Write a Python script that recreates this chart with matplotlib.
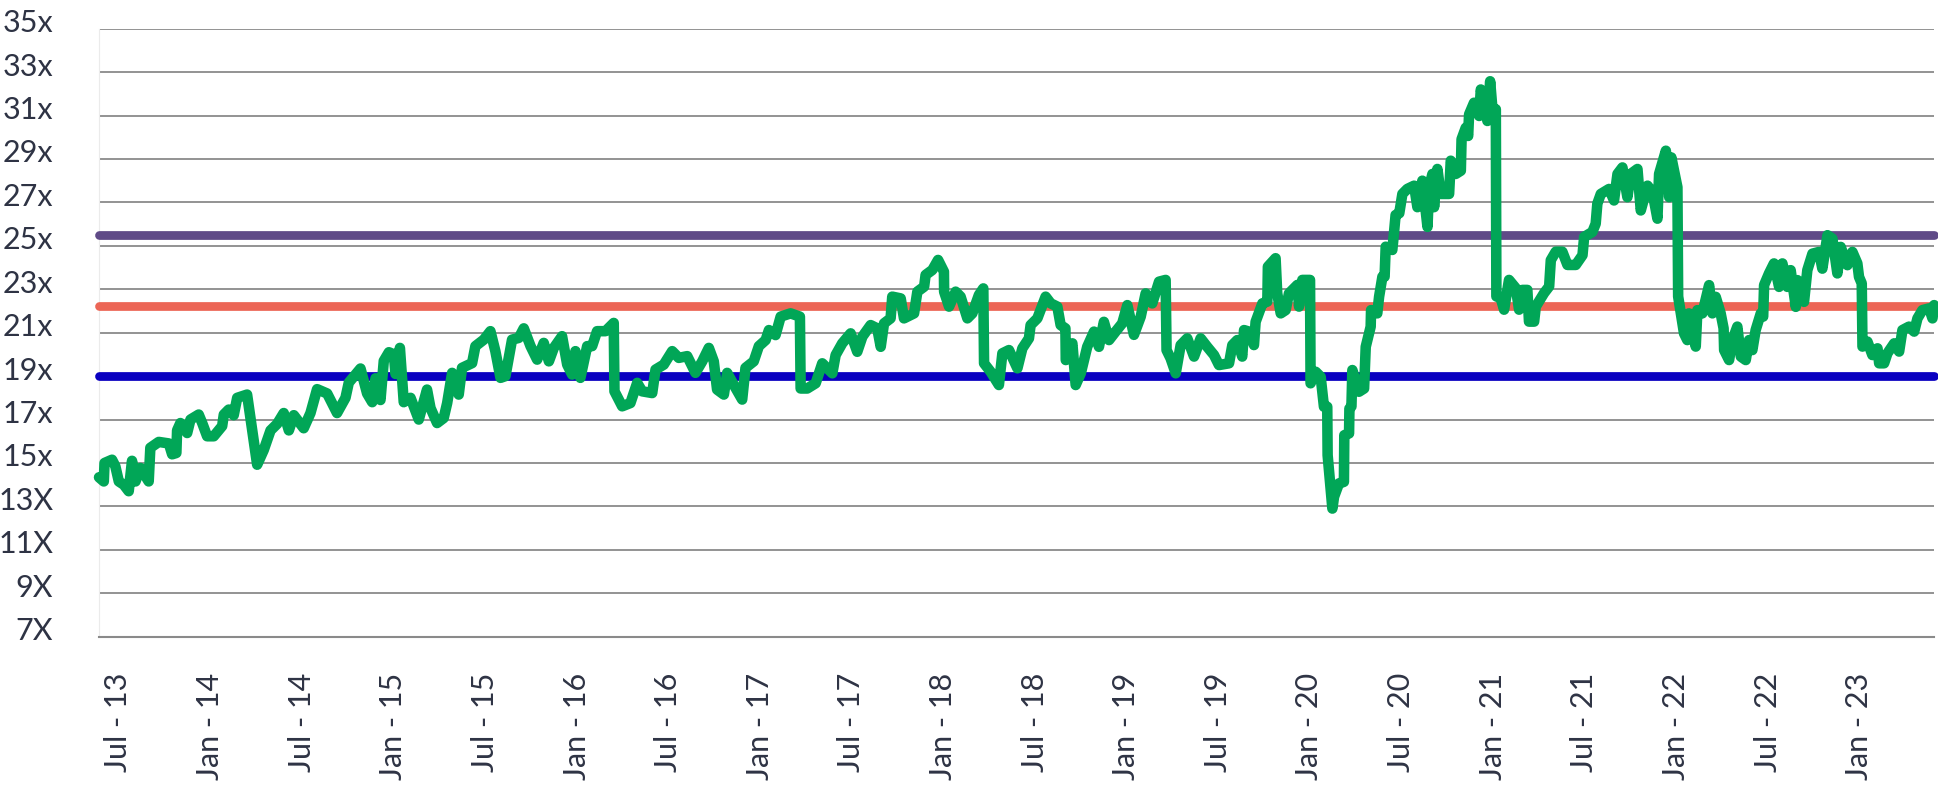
import matplotlib

matplotlib.use("Agg")
import matplotlib.pyplot as plt
from matplotlib.transforms import ScaledTranslation

GREEN = "#01a657"
PURPLE = "#5f4a87"
SALMON = "#ec6656"
BLUE = "#0a00c0"
GRID = "#8a8a8a"
TEXT = "#2e3344"

# decimal year, forward P/E
years = [
    2013.394, 2013.420, 2013.424, 2013.465, 2013.483, 2013.502, 2013.529, 2013.556, 2013.574, 2013.593,
    2013.620, 2013.665, 2013.674, 2013.720, 2013.775, 2013.793, 2013.816, 2013.820, 2013.838, 2013.875,
    2013.893, 2013.938, 2013.957, 2013.984, 2014.020, 2014.066, 2014.075, 2014.102, 2014.129, 2014.148,
    2014.202, 2014.257, 2014.293, 2014.330, 2014.366, 2014.402, 2014.430, 2014.457, 2014.511, 2014.548,
    2014.584, 2014.639, 2014.693, 2014.739, 2014.757, 2014.821, 2014.857, 2014.885, 2014.903, 2014.930,
    2014.948, 2014.976, 2015.003, 2015.012, 2015.036, 2015.057, 2015.094, 2015.139,
    2015.184, 2015.203, 2015.239, 2015.275, 2015.294, 2015.321, 2015.357, 2015.375, 2015.430, 2015.448,
    2015.494, 2015.530, 2015.557, 2015.585, 2015.612, 2015.648, 2015.685, 2015.712, 2015.749, 2015.785,
    2015.821, 2015.849, 2015.876, 2015.921, 2015.949, 2015.976, 2015.994, 2016.021, 2016.058, 2016.085,
    2016.112, 2016.158, 2016.203, 2016.207, 2016.249, 2016.294, 2016.331, 2016.358, 2016.413, 2016.431,
    2016.476, 2016.522, 2016.558, 2016.604, 2016.649, 2016.686, 2016.722, 2016.749, 2016.767, 2016.804,
    2016.822, 2016.858, 2016.904, 2016.922, 2016.967, 2016.995,
    2017.032, 2017.050, 2017.086, 2017.114, 2017.168, 2017.219, 2017.223, 2017.259, 2017.305, 2017.341,
    2017.396, 2017.414, 2017.450, 2017.496, 2017.532, 2017.560, 2017.605, 2017.641, 2017.660, 2017.678,
    2017.714, 2017.723, 2017.769, 2017.787, 2017.842, 2017.860, 2017.897, 2017.905, 2017.942, 2017.973,
    2018.005, 2018.006, 2018.033, 2018.069, 2018.096, 2018.133, 2018.160, 2018.196, 2018.220, 2018.224,
    2018.260, 2018.305, 2018.324, 2018.360, 2018.406, 2018.433, 2018.469, 2018.478, 2018.515, 2018.560,
    2018.588, 2018.624, 2018.642, 2018.668, 2018.670, 2018.706, 2018.724, 2018.752,
    2018.787, 2018.824, 2018.851, 2018.878, 2018.906, 2018.942, 2018.978, 2019.006, 2019.042, 2019.079,
    2019.106, 2019.142, 2019.179, 2019.215, 2019.220, 2019.242, 2019.270, 2019.297, 2019.333, 2019.370,
    2019.406, 2019.442, 2019.479, 2019.506, 2019.561, 2019.579, 2019.606, 2019.633, 2019.643, 2019.670,
    2019.697, 2019.706, 2019.743, 2019.770, 2019.773, 2019.815, 2019.824, 2019.843, 2019.870, 2019.888,
    2019.934, 2019.943, 2019.961, 2020.003, 2020.006, 2020.034, 2020.061, 2020.079, 2020.097, 2020.099,
    2020.125, 2020.134, 2020.161, 2020.188, 2020.190, 2020.216, 2020.218, 2020.229, 2020.234, 2020.270,
    2020.298, 2020.307, 2020.334, 2020.336, 2020.370, 2020.380, 2020.398, 2020.410, 2020.416, 2020.452,
    2020.461, 2020.470, 2020.490,
    2020.507, 2020.534, 2020.571, 2020.589, 2020.616, 2020.644, 2020.653, 2020.671, 2020.680, 2020.698,
    2020.716, 2020.762, 2020.771, 2020.798, 2020.826, 2020.830, 2020.853, 2020.866, 2020.871, 2020.898,
    2020.926, 2020.935, 2020.962, 2020.971, 2020.986, 2020.998, 2021.017, 2021.020, 2021.044, 2021.062,
    2021.089, 2021.126, 2021.144, 2021.162, 2021.189, 2021.198, 2021.226, 2021.235, 2021.280, 2021.308,
    2021.317, 2021.344, 2021.380, 2021.408, 2021.453, 2021.490, 2021.499, 2021.544, 2021.562, 2021.571,
    2021.590, 2021.635, 2021.662, 2021.681, 2021.708, 2021.735, 2021.753, 2021.790, 2021.808, 2021.845,
    2021.872, 2021.899, 2021.908, 2021.945, 2021.963, 2021.975, 2022.008, 2022.012,
    2022.044, 2022.062, 2022.071, 2022.090, 2022.108, 2022.117, 2022.144, 2022.181, 2022.199, 2022.217,
    2022.244, 2022.260, 2022.263, 2022.290, 2022.308, 2022.335, 2022.354, 2022.381, 2022.399, 2022.417,
    2022.435, 2022.463, 2022.476, 2022.481, 2022.508, 2022.535, 2022.563, 2022.581, 2022.608, 2022.626,
    2022.654, 2022.663, 2022.699, 2022.717, 2022.745, 2022.781, 2022.799, 2022.827, 2022.854, 2022.881,
    2022.899, 2022.936, 2022.963, 2022.990, 2022.999, 2023.014, 2023.018, 2023.045, 2023.072, 2023.100,
    2023.109, 2023.136, 2023.154, 2023.191, 2023.218, 2023.236, 2023.272, 2023.300, 2023.318, 2023.345,
    2023.382, 2023.400, 2023.409,
]
pe_values = [
    14.34, 14.15, 15.0, 15.15, 14.85, 14.15, 14.0, 13.7, 15.1, 14.15,
    14.77, 14.15, 15.7, 15.97, 15.9, 15.4, 15.46, 16.5, 16.84, 16.38,
    17.0, 17.23, 16.84, 16.23, 16.23, 16.7, 17.23, 17.46, 17.2, 18.0,
    18.15, 14.92, 15.6, 16.5, 16.8, 17.3, 16.5, 17.2, 16.6, 17.3,
    18.4, 18.2, 17.3, 18.0, 18.7, 19.35, 18.2, 17.8, 18.9, 17.9,
    19.7, 20.1, 20.0, 19.1, 20.3, 17.8, 18.0, 17.0,
    18.38, 17.53, 16.84, 17.07, 17.76, 19.15, 18.15, 19.38, 19.6, 20.38,
    20.68, 21.07, 20.15, 18.92, 19.0, 20.68, 20.76, 21.2, 20.38, 19.76,
    20.53, 19.68, 20.3, 20.84, 19.53, 19.07, 20.15, 18.92, 20.38, 20.38,
    21.07, 21.07, 21.45, 18.3, 17.61, 17.76, 18.69, 18.3, 18.22, 19.3,
    19.53, 20.15, 19.84, 19.92, 19.15, 19.68, 20.3, 19.68, 18.38, 18.15,
    19.15, 18.6, 17.92, 19.38, 19.68, 20.38,
    20.66, 21.12, 20.89, 21.74, 21.89, 21.74, 18.43, 18.43, 18.67, 19.59,
    19.13, 19.97, 20.51, 20.97, 20.12, 20.82, 21.35, 21.2, 20.35, 21.43,
    21.66, 22.66, 22.58, 21.66, 21.89, 22.89, 23.12, 23.66, 23.89, 24.35,
    23.81, 22.89, 22.2, 22.89, 22.66, 21.66, 21.89, 22.74, 23.04, 19.59,
    19.2, 18.59, 20.05, 20.2, 19.36, 20.28, 20.74, 21.35, 21.66, 22.66,
    22.35, 22.2, 21.35, 21.2, 19.74, 20.51, 18.59, 19.13,
    20.35, 21.05, 20.35, 21.5, 20.66, 21.05, 21.43, 22.27, 20.9, 21.74,
    22.81, 22.35, 23.35, 23.43, 20.2, 19.82, 19.13, 20.43, 20.74, 19.9,
    20.74, 20.35, 19.97, 19.51, 19.59, 20.43, 20.66, 19.9, 21.12, 21.05,
    20.43, 21.5, 22.35, 22.43, 24.04, 24.43, 22.81, 21.89, 22.04, 22.81,
    23.2, 22.2, 23.43, 23.43, 18.67, 19.2, 18.97, 17.59, 17.59, 15.36,
    12.9, 13.44, 14.06, 14.13, 16.28, 16.36, 17.51, 17.6, 19.28, 18.28,
    18.43, 20.35, 21.28, 22.04, 21.89, 22.66, 23.58, 23.58, 24.96, 24.81,
    25.58, 26.42, 26.5,
    27.39, 27.62, 27.77, 26.78, 28.0, 25.87, 27.7, 28.31, 26.78, 28.54,
    27.39, 27.39, 28.92, 28.31, 28.46, 29.91, 30.44, 30.06, 31.05, 31.59,
    30.98, 32.2, 31.2, 30.75, 32.58, 31.36, 31.29, 22.67, 22.59, 22.06,
    23.43, 23.05, 22.06, 22.97, 22.97, 21.51, 21.51, 22.2, 22.82, 23.13,
    24.34, 24.73, 24.73, 24.12, 24.12, 24.57, 25.41, 25.64, 26.02, 26.94,
    27.39, 27.62, 27.09, 28.31, 28.61, 27.24, 28.31, 28.54, 26.63, 27.77,
    27.47, 26.25, 28.31, 29.38, 27.24, 29.07, 27.7, 22.67,
    20.97, 20.66, 21.89, 21.12, 20.36, 22.04, 21.89, 23.19, 21.89, 22.65,
    21.89, 21.2, 20.2, 19.74, 20.66, 21.28, 19.9, 19.74, 20.66, 20.2,
    21.12, 21.89, 21.74, 23.19, 23.73, 24.19, 23.11, 24.19, 23.11, 23.88,
    22.19, 23.42, 22.42, 23.88, 24.64, 24.72, 23.95, 25.49, 25.33, 23.73,
    24.95, 24.11, 24.72, 24.19, 23.57, 23.27, 20.36, 20.59, 19.97, 20.28,
    19.59, 19.59, 20.05, 20.51, 20.13, 21.12, 21.28, 21.05, 21.66, 22.04,
    22.12, 21.66, 22.27,
]

average_pe = 22.25
plus_one_sd = 25.5
minus_one_sd = 19.0

tick_years = [2013.5 + 0.5 * i for i in range(20)]
tick_labels = [
    "Jul - 13", "Jan - 14", "Jul - 14", "Jan - 15", "Jul - 15", "Jan - 16", "Jul - 16",
    "Jan - 17", "Jul - 17", "Jan - 18", "Jul - 18", "Jan - 19", "Jul - 19", "Jan - 20",
    "Jul - 20", "Jan - 21", "Jul - 21", "Jan - 22", "Jul - 22", "Jan - 23",
]
y_ticks = list(range(7, 36, 2))
y_labels = ["7X", "9X", "11X", "13X", "15x", "17x", "19x", "21x",
            "23x", "25x", "27x", "29x", "31x", "33x", "35x"]

plt.rcParams["font.family"] = ["Lato", "DejaVu Sans"]

figure = plt.figure(figsize=(19.38, 7.88), dpi=100)
axis = figure.add_axes([0.0511, 0.192, 0.9469, 0.7716])

span = [years[0], years[-1]]
axis.plot(span, [plus_one_sd] * 2, color=PURPLE, linewidth=6.3,
          solid_capstyle="round", zorder=3, clip_on=False)
axis.plot(span, [average_pe] * 2, color=SALMON, linewidth=6.3,
          solid_capstyle="round", zorder=3, clip_on=False)
axis.plot(span, [minus_one_sd] * 2, color=BLUE, linewidth=6.3,
          solid_capstyle="round", zorder=3, clip_on=False)
axis.plot(years, pe_values, color=GREEN, linewidth=7.6,
          solid_capstyle="round", solid_joinstyle="round", zorder=4, clip_on=False)

axis.set_xlim(years[0], years[-1])
axis.set_ylim(7, 35)
axis.set_yticks(y_ticks)
axis.set_yticklabels(y_labels)
axis.set_xticks(tick_years)
axis.set_xticklabels(tick_labels, rotation=90)
axis.tick_params(axis="both", length=0, labelsize=22, labelcolor=TEXT)
axis.tick_params(axis="y", pad=33)
axis.tick_params(axis="x", pad=26)
for label in axis.get_yticklabels():
    label.set_transform(label.get_transform()
                        + ScaledTranslation(0, 8 / 100, figure.dpi_scale_trans))

axis.grid(axis="y", color=GRID, linewidth=1.3, zorder=1)
axis.set_axisbelow(True)
for side in ["top", "right"]:
    axis.spines[side].set_visible(False)
axis.spines["left"].set_color("#ebebeb")
axis.spines["left"].set_linewidth(0.8)
axis.spines["bottom"].set_color(GRID)
axis.spines["bottom"].set_linewidth(1.5)

figure.savefig("out.png", dpi=100)
